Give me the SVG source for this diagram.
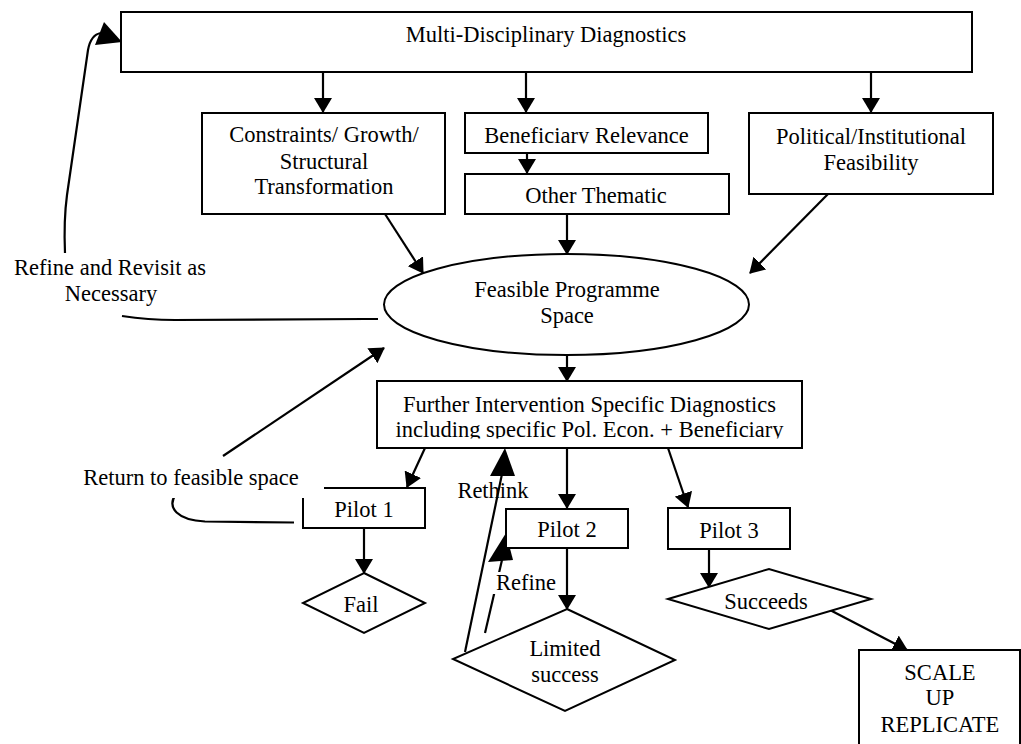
<svg xmlns="http://www.w3.org/2000/svg" width="1021" height="744" viewBox="0 0 1021 744">
<style>
.box{fill:#fff;stroke:#000;stroke-width:2}
.ln{fill:none;stroke:#000;stroke-width:2.2}
.t{font-family:"Liberation Serif","Times New Roman",serif;font-size:22.5px;fill:#000;text-anchor:middle}
.bg{fill:#fff;stroke:none}
</style>
<defs>
<marker id="ah" viewBox="0 0 15 18" refX="14" refY="9" markerWidth="15" markerHeight="18" markerUnits="userSpaceOnUse" orient="auto"><path d="M0,0 L15,9 L0,18 z" fill="#000"/></marker>
<clipPath id="cBen"><rect x="465" y="113" width="243" height="30.5"/></clipPath>
<clipPath id="cFur"><rect x="377" y="381" width="425" height="57.5"/></clipPath>
</defs>
<rect width="1021" height="744" fill="#fff"/>

<g id="connectors">
<line class="ln" x1="323" y1="72" x2="323" y2="112" marker-end="url(#ah)"/>
<line class="ln" x1="526" y1="72" x2="526" y2="112" marker-end="url(#ah)"/>
<line class="ln" x1="871" y1="72" x2="871" y2="112" marker-end="url(#ah)"/>
<line class="ln" x1="527" y1="153" x2="527" y2="173" marker-end="url(#ah)"/>
<line class="ln" x1="385" y1="214" x2="423" y2="273" marker-end="url(#ah)"/>
<line class="ln" x1="567" y1="214" x2="567" y2="254" marker-end="url(#ah)"/>
<line class="ln" x1="828" y1="194" x2="750" y2="273" marker-end="url(#ah)"/>
<line class="ln" x1="567" y1="355" x2="567" y2="381" marker-end="url(#ah)"/>
<line class="ln" x1="425" y1="448" x2="407" y2="487" marker-end="url(#ah)"/>
<line class="ln" x1="567" y1="448" x2="567" y2="508" marker-end="url(#ah)"/>
<line class="ln" x1="668" y1="448" x2="688" y2="507" marker-end="url(#ah)"/>
<line class="ln" x1="364" y1="528" x2="364" y2="573" marker-end="url(#ah)"/>
<line class="ln" x1="567" y1="548" x2="567" y2="609" marker-end="url(#ah)"/>
<line class="ln" x1="709" y1="549" x2="709" y2="587" marker-end="url(#ah)"/>
<line class="ln" x1="830" y1="610" x2="907" y2="650" marker-end="url(#ah)"/>
<line class="ln" x1="223" y1="456" x2="384" y2="348" marker-end="url(#ah)"/>
<path class="ln" d="M176 494 C166 508,178 520,205 521.5 L294 522.5"/>
<path class="ln" d="M378 319 C300 319,220 320,175 320 C150 320,135 318,122 316"/>
<path class="ln" d="M65 253 C64 230,65 210,67 195 L88 50 C90 39,95 34,101 33"/>
<polygon points="104,22 122,42 95,45" fill="#000"/>
<line class="ln" x1="465" y1="652" x2="502" y2="474"/>
<polygon points="505,448 490,476 515,476" fill="#000"/>
<line class="ln" x1="485" y1="633" x2="502" y2="560"/>
<polygon points="506,533 488,562 513,560" fill="#000"/>
</g>

<g id="n-multi"><rect class="box" x="121" y="12" width="851" height="60"/><text class="t" x="546" y="42">Multi-Disciplinary Diagnostics</text></g>
<g id="n-constraints"><rect class="box" x="202" y="113" width="243" height="101"/><text class="t" x="324" y="142">Constraints/ Growth/</text><text class="t" x="324" y="169">Structural</text><text class="t" x="324" y="194">Transformation</text></g>
<g id="n-beneficiary"><rect class="box" x="465" y="113" width="243" height="40"/><text class="t" x="586.5" y="142.5" clip-path="url(#cBen)">Beneficiary Relevance</text></g>
<g id="n-other"><rect class="box" x="465" y="174" width="264" height="40"/><text class="t" x="596" y="203">Other Thematic</text></g>
<g id="n-political"><rect class="box" x="749" y="113" width="244" height="81"/><text class="t" x="871" y="144">Political/Institutional</text><text class="t" x="871" y="170">Feasibility</text></g>
<g id="n-feasible"><ellipse class="box" cx="566.5" cy="304.5" rx="182.5" ry="50.5"/><text class="t" x="567" y="297">Feasible Programme</text><text class="t" x="567" y="323">Space</text></g>
<g id="n-further"><rect class="box" x="377" y="381" width="425" height="67"/><text class="t" x="589.5" y="412">Further Intervention Specific Diagnostics</text><text class="t" x="589.5" y="437" clip-path="url(#cFur)">including specific Pol. Econ. + Beneficiary</text></g>
<g id="n-pilot1"><rect class="box" x="303" y="488" width="122" height="40"/><text class="t" x="364" y="517">Pilot 1</text></g>
<g id="n-pilot2"><rect class="box" x="506" y="509" width="122" height="39"/><text class="t" x="567" y="537">Pilot 2</text></g>
<g id="n-pilot3"><rect class="box" x="668" y="508" width="122" height="41"/><text class="t" x="729" y="538">Pilot 3</text></g>
<g id="n-fail"><polygon class="box" points="364,573 425,603 364,633 303,603"/><text class="t" x="361" y="612">Fail</text></g>
<g id="n-limited"><polygon class="box" points="567,609 675,660 565,711 453,659"/><text class="t" x="565" y="656">Limited</text><text class="t" x="565" y="682">success</text></g>
<g id="n-succeeds"><polygon class="box" points="668,599 769,569 871,599 769,629"/><text class="t" x="766" y="609">Succeeds</text></g>
<g id="n-scale"><rect class="box" x="859" y="650" width="161" height="120"/><text class="t" x="940" y="680">SCALE</text><text class="t" x="940" y="705">UP</text><text class="t" x="940" y="732">REPLICATE</text></g>

<g id="labels">
<text class="t" x="110" y="275">Refine and Revisit as</text>
<text class="t" x="111" y="301">Necessary</text>
<rect class="bg" x="78" y="457" width="246" height="41"/>
<text class="t" x="191" y="485">Return to feasible space</text>
<text class="t" x="493" y="498">Rethink</text>
<rect class="bg" x="492" y="572" width="64" height="22"/>
<text class="t" x="526" y="590">Refine</text>
</g>
</svg>
